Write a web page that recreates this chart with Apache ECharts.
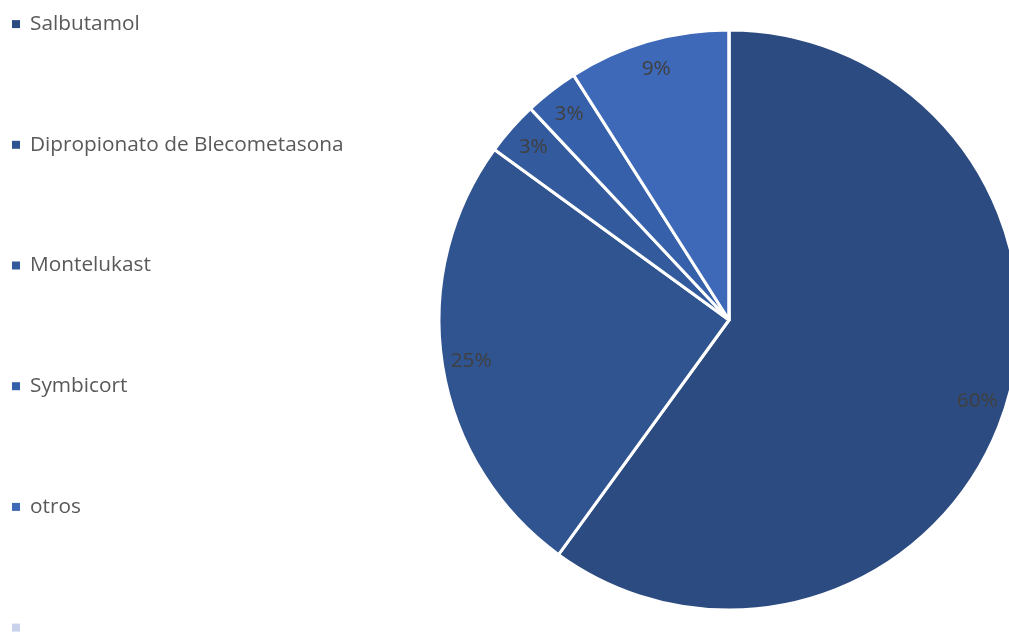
<!DOCTYPE html>
<html>
<head>
<meta charset="utf-8">
<script src="https://cdn.jsdelivr.net/npm/echarts@6/dist/echarts.min.js"></script>
<style>
  html, body { margin: 0; padding: 0; background: #ffffff; }
  #chart { width: 1009px; height: 633px; }
</style>
</head>
<body>
<div id="chart"></div>
<script>
// Medication shares (percent of total)
const categories = ['Salbutamol', 'Dipropionato de Blecometasona', 'Montelukast', 'Symbicort', 'otros', ' '];
const values = [60, 25, 3, 3, 9, 0];
const colors = ['#2c4b80', '#30548f', '#335a9c', '#3661aa', '#3e69b8', '#c9d2ea'];

const FONT = '"Open Sans", "Noto Sans", sans-serif';
const FONT_SIZE = 20.8;

const chart = echarts.init(document.getElementById('chart'), null, { renderer: 'canvas' });

chart.setOption({
  animation: false,
  backgroundColor: '#ffffff',
  legend: {
    orient: 'vertical',
    left: 7,
    top: 8.6,
    height: 700,
    icon: 'rect',
    itemWidth: 8,
    itemHeight: 8,
    itemGap: 99.7,
    itemStyle: { borderWidth: 0 },
    data: categories,
    selectedMode: false,
    textStyle: {
      fontFamily: FONT,
      fontSize: FONT_SIZE,
      color: '#595959',
      padding: [0, 0, 0, 5]
    }
  },
  series: [
    {
      // the slices
      type: 'pie',
      center: [729, 320],
      radius: 290,
      startAngle: 90,
      clockwise: true,
      label: { show: false },
      labelLine: { show: false },
      itemStyle: { borderColor: '#ffffff', borderWidth: 3 },
      emphasis: { disabled: true },
      data: categories.map((name, i) => ({
        name: name,
        value: values[i],
        itemStyle: { color: colors[i] }
      }))
    },
    {
      // transparent outer ring carrying the percentage labels
      type: 'pie',
      center: [729, 320],
      radius: [226, 290],
      startAngle: 90,
      clockwise: true,
      silent: true,
      percentPrecision: 0,
      itemStyle: { color: 'rgba(0,0,0,0)' },
      label: {
        show: true,
        position: 'inside',
        formatter: '{d}%',
        fontFamily: FONT,
        fontSize: FONT_SIZE,
        color: '#404040'
      },
      labelLine: { show: false },
      emphasis: { disabled: true },
      data: categories.map((name, i) => ({
        name: name,
        value: values[i],
        label: { show: values[i] > 0 }
      }))
    }
  ]
});
</script>
</body>
</html>
